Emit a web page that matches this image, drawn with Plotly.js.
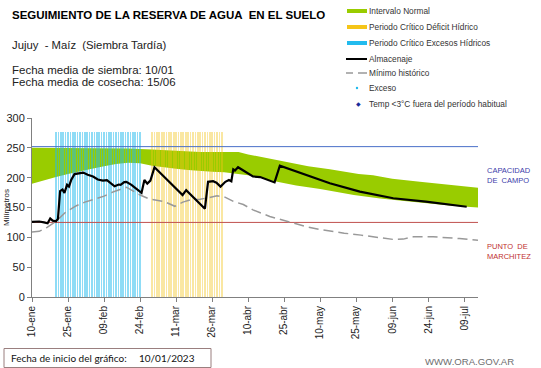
<!DOCTYPE html>
<html><head><meta charset="utf-8">
<script src="https://cdn.plot.ly/plotly-3.0.1.min.js"></script>
<style>html,body{margin:0;padding:0;background:#fff}#chart{width:541px;height:368px}</style>
</head><body><div id="chart"></div>
<script>
// ---- DATA (x = días desde el 10/01/2023) ----
const X_FIN = 185.7;
const tickDias = [0,15,30,45,60,75,90,105,120,135,150,165,180];
const tickTextos = ['10-ene','25-ene','09-feb','24-feb','11-mar','26-mar','10-abr','25-abr','10-may','25-may','09-jun','24-jun','09-jul'];

const capacidadCampo = 252;
const puntoMarchitez = 125;

const bandaDiasSup = [0,10,20,30,40,50,60,70,80,86,90,95,100,106,115,124,136,142,150,161.5,175,185.7];
const bandaSup     = [250,250,250,250,249,247,245,243,243,243,239,235,231,225,219,214,206,204,198,193,187,183];
const bandaDiasInf = [0,5,10,15,20,25,30,35,40,45,50,55,60,65,70,75,80,85,90,95,100,110,120,134,145,155,165,175,185.7];
const bandaInf     = [190,196,201,206,211,215,219,223,225,224,220,217,215,213,211,210,209,207,204,200,195,187,181,171,165,161,157,153,150];

const diasExceso = [10,11,12,13,14,15,16,17,18,19,20,21,22,23,24,25,26,27,28,29,30,31,32,33,34,35,36,37,38,39,40,41,42,43,44,45];
const altoExceso = [277,277,277,277,277,277,277,277,277,277,277,277,277,277,277,277,277,277,277,277,277,277,277,277,277,277,277,277,277,277,277,277,277,277,277,277];
const diasDeficit = [50,51,52,53,54,55,56,57,58,59,60,61,62,63,64,65,66,67,68,69,70,71,72,73,74,75,76,77,78,79];
const altoDeficit = [277,277,277,277,277,277,277,277,277,277,277,277,277,277,277,277,277,277,277,277,277,277,277,277,277,277,277,277,277,277];

const almDias = [0,3,5,6.5,7.6,8.6,10,10.8,11.7,12.7,13.5,14.6,15.4,16.3,17.7,20.4,21.3,23.2,25.4,27.4,29.5,31.2,34.4,36.1,36.9,38.4,39.3,41.4,45.6,46.8,48,49.3,51,62.7,64.2,72,73.3,75.4,76.8,78.5,80.5,82,83,83.8,84.5,85.8,92,95,100.4,101,103.2,115.7,124,136.5,150.4,164,181];
const almVal  = [126,126.5,125,123.5,131.5,128,127,131,177.5,180,174.5,188,185,196,206,207.5,208.5,205,202,197,195,196,185.5,188.5,188,192.5,193,188,174.5,196,190,195,217.5,171,179,148,193,194,191.7,185,193,196,194,214,212,217.5,202,201,193,192,220,202,190.6,176.6,165.5,159.8,151.3];

const minDias = [0,3,6,10,14,18.5,22,27,30,34,37,39.3,42,45,49,55,59.5,62.8,66,70,73,77,80,84,88,92,99,106,109,114,120,123,130,137,144,150.4,154.6,158.8,167,172,178,185.7];
const minVal  = [109,110,116,127,142,153,159,165.5,169,176.5,181,184,178,171,164,160,152,159,163,164,166,169.5,168,160,155,146,135,127,124.5,118,113,111,107,103.7,100,96.5,97,101,101,100,98,95];

// ---- LAYOUT HELPERS (pixel -> paper) ----
const L = 32, T = 118, W = 446, H = 179;
const px = x => (x - L) / W;
const py = y => (T + H - y) / H;

const traces = [
  {x: bandaDiasInf, y: bandaInf, type:'scatter', mode:'lines', line:{width:0, color:'#99CC00'}, hoverinfo:'skip', showlegend:false},
  {x: bandaDiasSup, y: bandaSup, type:'scatter', mode:'lines', line:{width:0, color:'#99CC00'}, fill:'tonexty', fillcolor:'#99CC00', hoverinfo:'skip', showlegend:false},
  {x: diasExceso, y: altoExceso, type:'bar', width:0.68, marker:{color:'#22BBEE', line:{width:0}}, opacity:0.5, xaxis:'x2', yaxis:'y2', showlegend:false},
  {x: diasDeficit, y: altoDeficit, type:'bar', width:0.68, marker:{color:'#F5C518', line:{width:0}}, opacity:0.4, xaxis:'x2', yaxis:'y2', showlegend:false},
  {x: [0, X_FIN], y: [capacidadCampo, capacidadCampo], type:'scatter', mode:'lines', line:{color:'#4A6FC8', width:1}, xaxis:'x2', yaxis:'y2', showlegend:false},
  {x: [0, X_FIN], y: [puntoMarchitez, puntoMarchitez], type:'scatter', mode:'lines', line:{color:'#C0504D', width:1}, xaxis:'x2', yaxis:'y2', showlegend:false},
  {x: minDias, y: minVal, type:'scatter', mode:'lines', line:{color:'#999999', width:1.5, dash:'10px,5px'}, xaxis:'x2', yaxis:'y2', showlegend:false},
  {x: almDias, y: almVal, type:'scatter', mode:'lines', line:{color:'#000000', width:2.2}, xaxis:'x2', yaxis:'y2', showlegend:false}
];

const txt = (t, x, y, size, color, extra) => Object.assign({
  text:t, xref:'paper', yref:'paper', x:px(x), y:py(y), xanchor:'left', yanchor:'middle',
  showarrow:false, font:{family:'Liberation Sans, Arial, sans-serif', size:size, color:color}
}, extra || {});

const legendItems = [
  ['Intervalo Normal', 11], ['Periodo Crítico Déficit Hídrico', 27], ['Periodo Crítico Excesos Hídricos', 43],
  ['Almacenaje', 59], ['Mínimo histórico', 73], ['Exceso', 88], ['Temp <3°C fuera del período habitual', 104]
];

const calibri = {family:'Lato, sans-serif', size:10, color:'#111'};
const annotations = [
  txt('<b>SEGUIMIENTO DE LA RESERVA DE AGUA  EN EL SUELO</b>', 10, 15, 11.5, '#000'),
  txt('Jujuy  - Maíz  (Siembra Tardía)', 10, 45, 11.3, '#222'),
  txt('Fecha media de siembra: 10/01', 10, 70, 11.5, '#222'),
  txt('Fecha media de cosecha: 15/06', 10, 82, 11.5, '#222'),
  txt('Milímetros', 6, 208, 8, '#222', {textangle:-90, xanchor:'center'}),
  txt('CAPACIDAD<br>DE  CAMPO', 485, 175, 7.5, '#3C3CAA', {align:'left'}),
  txt('PUNTO  DE<br>MARCHITEZ', 485, 251, 7.5, '#C03030', {align:'left'}),
  txt('Fecha de inicio del gráfico:', 9, 358.3, 10, '#111', {font:calibri}),
  txt('10/01/2023', 136.5, 358.3, 10, '#111', {font:calibri}),
  txt('WWW.ORA.GOV.AR', 423, 361, 9.6, '#6E6E6E'),
  txt('◆', 353.5, 104, 6, '#1A2A9A')
].concat(legendItems.map(it => txt(it[0], 367, it[1], 8.3, '#333')));

const shapes = [
  {type:'rect', xref:'paper', yref:'paper', x0:px(347), x1:px(367), y0:py(9), y1:py(13), fillcolor:'#99CC00', line:{width:0}},
  {type:'rect', xref:'paper', yref:'paper', x0:px(347), x1:px(367), y0:py(25), y1:py(29), fillcolor:'#F5C518', line:{width:0}},
  {type:'rect', xref:'paper', yref:'paper', x0:px(347), x1:px(367), y0:py(41), y1:py(45), fillcolor:'#22BBEE', line:{width:0}},
  {type:'line', xref:'paper', yref:'paper', x0:px(346), x1:px(367), y0:py(59), y1:py(59), line:{color:'#000', width:2}},
  {type:'line', xref:'paper', yref:'paper', x0:px(346), x1:px(353), y0:py(73), y1:py(73), line:{color:'#999', width:1.5}},
  {type:'line', xref:'paper', yref:'paper', x0:px(358), x1:px(367), y0:py(73), y1:py(73), line:{color:'#999', width:1.5}},
  {type:'circle', xref:'paper', yref:'paper', x0:px(355.8), x1:px(358.2), y0:py(86.8), y1:py(89.2), fillcolor:'#22BBEE', line:{width:0}},
  {type:'rect', xref:'paper', yref:'paper', x0:px(4), x1:px(211), y0:py(348.5), y1:py(367.5), fillcolor:'rgba(0,0,0,0)', line:{color:'#9A7F7F', width:1}}
];

const layout = {
  width:541, height:368,
  margin:{l:L, r:541-L-W, t:T, b:368-T-H, pad:0},
  paper_bgcolor:'#fff', plot_bgcolor:'rgba(0,0,0,0)',
  showlegend:false, bargap:0, barmode:'overlay',
  font:{family:'Liberation Sans, Arial, sans-serif', color:'#222'},
  xaxis:{range:[0, X_FIN], tickmode:'array', tickvals:tickDias, ticktext:tickTextos, tickangle:-90,
         ticks:'outside', ticklen:4, tickcolor:'#808080', showline:true, linecolor:'#808080', linewidth:1,
         showgrid:false, zeroline:false, tickfont:{size:10, color:'#222'}, fixedrange:true},
  yaxis:{range:[0,300], dtick:50, ticks:'outside', ticklen:4, tickcolor:'#808080', showline:true,
         linecolor:'#808080', linewidth:1, showgrid:false, zeroline:false, tickfont:{size:11, color:'#222'}, fixedrange:true},
  xaxis2:{range:[0, X_FIN], overlaying:'x', anchor:'y2', visible:false, fixedrange:true},
  yaxis2:{range:[0,300], overlaying:'y', anchor:'x2', visible:false, fixedrange:true},
  annotations: annotations,
  shapes: shapes
};

Plotly.newPlot('chart', traces, layout, {staticPlot:true, displayModeBar:false});
</script></body></html>
